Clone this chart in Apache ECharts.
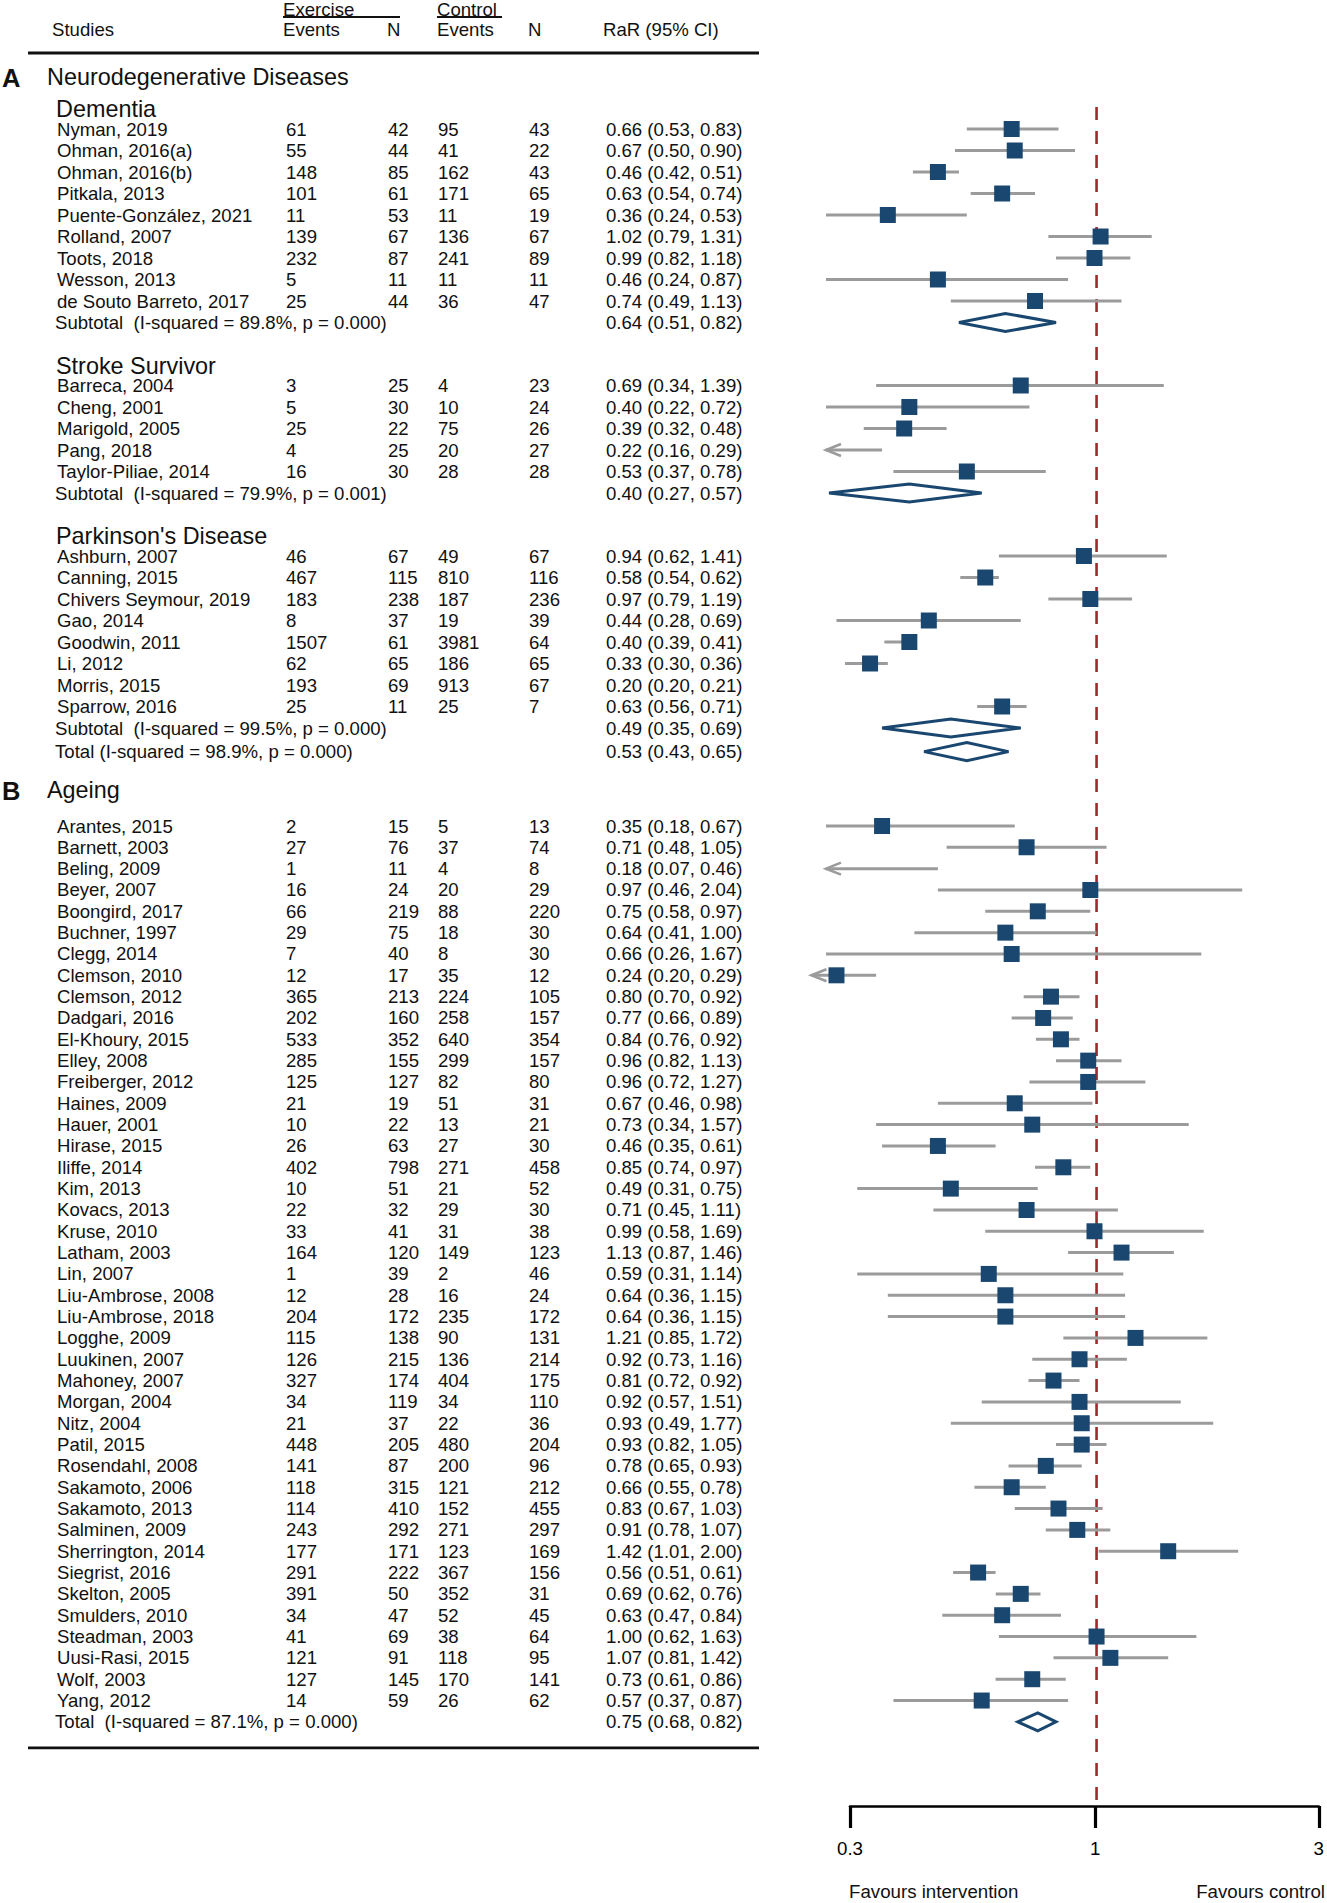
<!DOCTYPE html>
<html><head><meta charset="utf-8">
<script src="https://cdn.jsdelivr.net/npm/echarts@6/dist/echarts.min.js"></script>
<style>html,body{margin:0;padding:0;background:#fff}#c{width:1327px;height:1903px}</style>
</head><body><div id="c"></div>
<script>
// ---------------- DATA ----------------
const panelLetters = ['A', 'B'];
const panelTitles = ['Neurodegenerative Diseases', 'Ageing'];
const groupTitles = ['Dementia', 'Stroke Survivor', "Parkinson's Disease"];
const tickValues = [0.3, 1, 3];
const favourLabels = ['Favours intervention', 'Favours control'];

const dementiaStudies = ['Nyman, 2019','Ohman, 2016(a)','Ohman, 2016(b)','Pitkala, 2013','Puente-González, 2021','Rolland, 2007','Toots, 2018','Wesson, 2013','de Souto Barreto, 2017'];
const dementiaExEvents = [61,55,148,101,11,139,232,5,25];
const dementiaExN = [42,44,85,61,53,67,87,11,44];
const dementiaCtEvents = [95,41,162,171,11,136,241,11,36];
const dementiaCtN = [43,22,43,65,19,67,89,11,47];
const dementiaCI = ['0.66 (0.53, 0.83)','0.67 (0.50, 0.90)','0.46 (0.42, 0.51)','0.63 (0.54, 0.74)','0.36 (0.24, 0.53)','1.02 (0.79, 1.31)','0.99 (0.82, 1.18)','0.46 (0.24, 0.87)','0.74 (0.49, 1.13)'];
const dementiaRR = [0.66,0.67,0.46,0.63,0.36,1.02,0.99,0.46,0.74];
const dementiaLo = [0.53,0.50,0.42,0.54,0.24,0.79,0.82,0.24,0.49];
const dementiaHi = [0.83,0.90,0.51,0.74,0.53,1.31,1.18,0.87,1.13];
const dementiaPooled = [0.64,0.51,0.82];
const dementiaPooledLabel = 'Subtotal\u00a0 (I-squared = 89.8%, p = 0.000)';

const strokeStudies = ['Barreca, 2004','Cheng, 2001','Marigold, 2005','Pang, 2018','Taylor-Piliae, 2014'];
const strokeExEvents = [3,5,25,4,16];
const strokeExN = [25,30,22,25,30];
const strokeCtEvents = [4,10,75,20,28];
const strokeCtN = [23,24,26,27,28];
const strokeCI = ['0.69 (0.34, 1.39)','0.40 (0.22, 0.72)','0.39 (0.32, 0.48)','0.22 (0.16, 0.29)','0.53 (0.37, 0.78)'];
const strokeRR = [0.69,0.40,0.39,0.22,0.53];
const strokeLo = [0.34,0.22,0.32,0.16,0.37];
const strokeHi = [1.39,0.72,0.48,0.35,0.78];
const strokePooled = [0.40,0.27,0.57];
const strokePooledLabel = 'Subtotal\u00a0 (I-squared = 79.9%, p = 0.001)';

const parkinsonStudies = ['Ashburn, 2007','Canning, 2015','Chivers Seymour, 2019','Gao, 2014','Goodwin, 2011','Li, 2012','Morris, 2015','Sparrow, 2016'];
const parkinsonExEvents = [46,467,183,8,1507,62,193,25];
const parkinsonExN = [67,115,238,37,61,65,69,11];
const parkinsonCtEvents = [49,810,187,19,3981,186,913,25];
const parkinsonCtN = [67,116,236,39,64,65,67,7];
const parkinsonCI = ['0.94 (0.62, 1.41)','0.58 (0.54, 0.62)','0.97 (0.79, 1.19)','0.44 (0.28, 0.69)','0.40 (0.39, 0.41)','0.33 (0.30, 0.36)','0.20 (0.20, 0.21)','0.63 (0.56, 0.71)'];
const parkinsonRR = [0.94,0.58,0.97,0.44,0.40,0.33,0.20,0.63];
const parkinsonLo = [0.62,0.54,0.79,0.28,0.39,0.30,0.20,0.56];
const parkinsonHi = [1.41,0.62,1.19,0.69,0.41,0.36,0.21,0.71];
const parkinsonPooled = [0.49,0.35,0.69];
const parkinsonPooledLabel = 'Subtotal\u00a0 (I-squared = 99.5%, p = 0.000)';

const neuroTotal = [0.53,0.43,0.65];
const neuroTotalLabel = 'Total (I-squared = 98.9%, p = 0.000)';

const ageingStudies = ['Arantes, 2015','Barnett, 2003','Beling, 2009','Beyer, 2007','Boongird, 2017','Buchner, 1997','Clegg, 2014','Clemson, 2010','Clemson, 2012','Dadgari, 2016','El-Khoury, 2015','Elley, 2008','Freiberger, 2012','Haines, 2009','Hauer, 2001','Hirase, 2015','Iliffe, 2014','Kim, 2013','Kovacs, 2013','Kruse, 2010','Latham, 2003','Lin, 2007','Liu-Ambrose, 2008','Liu-Ambrose, 2018','Logghe, 2009','Luukinen, 2007','Mahoney, 2007','Morgan, 2004','Nitz, 2004','Patil, 2015','Rosendahl, 2008','Sakamoto, 2006','Sakamoto, 2013','Salminen, 2009','Sherrington, 2014','Siegrist, 2016','Skelton, 2005','Smulders, 2010','Steadman, 2003','Uusi-Rasi, 2015','Wolf, 2003','Yang, 2012'];
const ageingExEvents = [2,27,1,16,66,29,7,12,365,202,533,285,125,21,10,26,402,10,22,33,164,1,12,204,115,126,327,34,21,448,141,118,114,243,177,291,391,34,41,121,127,14];
const ageingExN = [15,76,11,24,219,75,40,17,213,160,352,155,127,19,22,63,798,51,32,41,120,39,28,172,138,215,174,119,37,205,87,315,410,292,171,222,50,47,69,91,145,59];
const ageingCtEvents = [5,37,4,20,88,18,8,35,224,258,640,299,82,51,13,27,271,21,29,31,149,2,16,235,90,136,404,34,22,480,200,121,152,271,123,367,352,52,38,118,170,26];
const ageingCtN = [13,74,8,29,220,30,30,12,105,157,354,157,80,31,21,30,458,52,30,38,123,46,24,172,131,214,175,110,36,204,96,212,455,297,169,156,31,45,64,95,141,62];
const ageingCI = ['0.35 (0.18, 0.67)','0.71 (0.48, 1.05)','0.18 (0.07, 0.46)','0.97 (0.46, 2.04)','0.75 (0.58, 0.97)','0.64 (0.41, 1.00)','0.66 (0.26, 1.67)','0.24 (0.20, 0.29)','0.80 (0.70, 0.92)','0.77 (0.66, 0.89)','0.84 (0.76, 0.92)','0.96 (0.82, 1.13)','0.96 (0.72, 1.27)','0.67 (0.46, 0.98)','0.73 (0.34, 1.57)','0.46 (0.35, 0.61)','0.85 (0.74, 0.97)','0.49 (0.31, 0.75)','0.71 (0.45, 1.11)','0.99 (0.58, 1.69)','1.13 (0.87, 1.46)','0.59 (0.31, 1.14)','0.64 (0.36, 1.15)','0.64 (0.36, 1.15)','1.21 (0.85, 1.72)','0.92 (0.73, 1.16)','0.81 (0.72, 0.92)','0.92 (0.57, 1.51)','0.93 (0.49, 1.77)','0.93 (0.82, 1.05)','0.78 (0.65, 0.93)','0.66 (0.55, 0.78)','0.83 (0.67, 1.03)','0.91 (0.78, 1.07)','1.42 (1.01, 2.00)','0.56 (0.51, 0.61)','0.69 (0.62, 0.76)','0.63 (0.47, 0.84)','1.00 (0.62, 1.63)','1.07 (0.81, 1.42)','0.73 (0.61, 0.86)','0.57 (0.37, 0.87)'];
const ageingRR = [0.35,0.71,0.18,0.97,0.75,0.64,0.66,0.28,0.80,0.77,0.84,0.96,0.96,0.67,0.73,0.46,0.85,0.49,0.71,0.99,1.13,0.59,0.64,0.64,1.21,0.92,0.81,0.92,0.93,0.93,0.78,0.66,0.83,0.91,1.42,0.56,0.69,0.63,1.00,1.07,0.73,0.57];
const ageingLo = [0.18,0.48,0.07,0.46,0.58,0.41,0.26,0.20,0.70,0.66,0.76,0.82,0.72,0.46,0.34,0.35,0.74,0.31,0.45,0.58,0.87,0.31,0.36,0.36,0.85,0.73,0.72,0.57,0.49,0.82,0.65,0.55,0.67,0.78,1.01,0.51,0.62,0.47,0.62,0.81,0.61,0.37];
const ageingHi = [0.67,1.05,0.46,2.04,0.97,1.00,1.67,0.34,0.92,0.89,0.92,1.13,1.27,0.98,1.57,0.61,0.97,0.75,1.11,1.69,1.46,1.14,1.15,1.15,1.72,1.16,0.92,1.51,1.77,1.05,0.93,0.78,1.03,1.07,2.00,0.61,0.76,0.84,1.63,1.42,0.86,0.87];
const ageingTotal = [0.75,0.68,0.82];
const ageingTotalLabel = 'Total\u00a0 (I-squared = 87.1%, p = 0.000)';

// ---------------- STYLE / LAYOUT ----------------
const FONT = '"Liberation Sans", Arial, Helvetica, sans-serif';
const NAVY = '#1a476f', GRAY = '#9b9b9b', RED = '#a3272f', INK = '#111';
const W = 1327, H = 1903;
const X_MIN = 0.266, X_MAX = 3;          // plotting window of the forest panel
const AXIS_Y = 1806, REF_TOP = 107;
const ROW_A = 21.5, ROW_B = 21.33;
const COL = {name: 57, pool: 55, group: 56, exE: 286, exN: 388, ctE: 438, ctN: 529, ci: 606};
const fmt = v => v.toFixed(2);
const ciOf = a => fmt(a[0]) + ' (' + fmt(a[1]) + ', ' + fmt(a[2]) + ')';

const neuroGroups = [
  {title: groupTitles[0], studies: dementiaStudies, exE: dementiaExEvents, exN: dementiaExN, ctE: dementiaCtEvents, ctN: dementiaCtN, ci: dementiaCI, rr: dementiaRR, lo: dementiaLo, hi: dementiaHi, pooled: dementiaPooled, pooledLabel: dementiaPooledLabel},
  {title: groupTitles[1], studies: strokeStudies, exE: strokeExEvents, exN: strokeExN, ctE: strokeCtEvents, ctN: strokeCtN, ci: strokeCI, rr: strokeRR, lo: strokeLo, hi: strokeHi, pooled: strokePooled, pooledLabel: strokePooledLabel},
  {title: groupTitles[2], studies: parkinsonStudies, exE: parkinsonExEvents, exN: parkinsonExN, ctE: parkinsonCtEvents, ctN: parkinsonCtN, ci: parkinsonCI, rr: parkinsonRR, lo: parkinsonLo, hi: parkinsonHi, pooled: parkinsonPooled, pooledLabel: parkinsonPooledLabel}
];
const ageingGroup = {studies: ageingStudies, exE: ageingExEvents, exN: ageingExN, ctE: ageingCtEvents, ctN: ageingCtN, ci: ageingCI, rr: ageingRR, lo: ageingLo, hi: ageingHi};

const layout = [];
const forestRows = [];
const diamondRows = [];
function addStudies(g, y, step) {
  g.studies.forEach((s, i) => {
    if (i > 0) y += step;
    layout.push({kind: 'study', g, i, y});
    forestRows.push([g.rr[i], g.lo[i], g.hi[i], y, parseFloat(g.ci[i]) < X_MIN ? 1 : 0]);
  });
  return y;
}
function addPool(label, vals, y) {
  layout.push({kind: 'pool', label, ci: ciOf(vals), y});
  diamondRows.push([vals[0], vals[1], vals[2], y]);
}
layout.push({kind: 'head', y: 29});
layout.push({kind: 'rule', y: 53});
let y = 77;
layout.push({kind: 'panel', letter: panelLetters[0], title: panelTitles[0], y});
y = 109;
neuroGroups.forEach((g, gi) => {
  if (gi > 0) y += 2 * ROW_A;
  layout.push({kind: 'group', title: g.title, y});
  y += 20;
  y = addStudies(g, y, ROW_A);
  y += ROW_A;
  addPool(g.pooledLabel, g.pooled, y);
});
y += 23.6;
addPool(neuroTotalLabel, neuroTotal, y);
y += 38;
layout.push({kind: 'panel', letter: panelLetters[1], title: panelTitles[1], y});
y += 36.4;
y = addStudies(ageingGroup, y, ROW_B);
y += ROW_B;
addPool(ageingTotalLabel, ageingTotal, y);
layout.push({kind: 'rule', y: y + 26});
layout.push({kind: 'foot', y: 1891});

// ---------------- RENDER ----------------
function T(x, yy, text, extra) {
  return {type: 'text', x, y: yy, silent: true,
    style: Object.assign({text, fill: INK, fontSize: 18.6, fontFamily: FONT, align: 'left', verticalAlign: 'middle'}, extra || {})};
}
function L(x1, y1, x2, y2, w, c) {
  return {type: 'line', silent: true, shape: {x1, y1, x2, y2}, style: {stroke: c || INK, lineWidth: w || 2.8}};
}

function renderTable(params, api) {
  const r = layout[api.value(2)];
  const py = api.coord([0, api.value(1)])[1];
  const X = v => api.coord([v, 0])[0];
  const ch = [];
  switch (r.kind) {
    case 'head':
      ch.push(T(X(283), py - 20, 'Exercise'), L(X(283), py - 12, X(400), py - 12, 2.2));
      ch.push(T(X(437), py - 20, 'Control'), L(X(437), py - 12, X(502), py - 12, 2.2));
      ch.push(T(X(52), py, 'Studies'), T(X(283), py, 'Events'), T(X(387), py, 'N'),
              T(X(437), py, 'Events'), T(X(528), py, 'N'), T(X(603), py, 'RaR (95% CI)'));
      break;
    case 'rule':
      ch.push(L(X(28), py, X(759), py, 2.8));
      break;
    case 'panel':
      ch.push(T(X(2), py + 1, r.letter, {fontSize: 25.5, fontWeight: 'bold'}));
      ch.push(T(X(47), py, r.title, {fontSize: 23.4}));
      break;
    case 'group':
      ch.push(T(X(COL.group), py, r.title, {fontSize: 23.4}));
      break;
    case 'study': {
      const g = r.g, i = r.i;
      ch.push(T(X(COL.name), py, g.studies[i]), T(X(COL.exE), py, String(g.exE[i])), T(X(COL.exN), py, String(g.exN[i])),
              T(X(COL.ctE), py, String(g.ctE[i])), T(X(COL.ctN), py, String(g.ctN[i])), T(X(COL.ci), py, g.ci[i]));
      break;
    }
    case 'pool':
      ch.push(T(X(COL.pool), py, r.label), T(X(COL.ci), py, r.ci));
      break;
    case 'foot':
      ch.push(T(X(849), py, favourLabels[0], {fontSize: 18.7}));
      ch.push(T(X(1325), py, favourLabels[1], {fontSize: 18.7, align: 'right'}));
      break;
  }
  return {type: 'group', children: ch};
}

function renderCI(params, api) {
  const rr = api.value(0), lo = api.value(1), hi = api.value(2), yv = api.value(3), arrow = api.value(4);
  if (hi < X_MIN) return null;
  const yy = api.coord([1, yv])[1];
  const xl = api.coord([Math.max(lo, X_MIN), yv])[0];
  const xr = api.coord([Math.min(hi, X_MAX), yv])[0];
  const hasSquare = rr >= X_MIN && rr <= X_MAX;
  const xc = api.coord([Math.max(rr, X_MIN), yv])[0];
  const tip = hasSquare ? Math.min(xl, xc - 25) : xl;
  const ch = [{type: 'line', shape: {x1: tip, y1: yy, x2: xr, y2: yy}, style: {stroke: GRAY, lineWidth: 3}}];
  if (arrow) {
    ch.push({type: 'polyline', shape: {points: [[tip + 15, yy - 6], [tip, yy], [tip + 15, yy + 6]]}, style: {stroke: GRAY, lineWidth: 2.6, fill: 'none'}});
  }
  if (hasSquare) {
    ch.push({type: 'rect', shape: {x: xc - 8, y: yy - 8, width: 16, height: 16}, style: {fill: NAVY}});
  }
  return {type: 'group', children: ch};
}

function renderDiamond(params, api) {
  const yv = api.value(3);
  const c = api.coord([api.value(0), yv]);
  const l = api.coord([api.value(1), yv]);
  const r = api.coord([api.value(2), yv]);
  return {type: 'polygon', shape: {points: [[l[0], c[1]], [c[0], c[1] - 9], [r[0], c[1]], [c[0], c[1] + 9]]},
          style: {fill: '#fff', stroke: NAVY, lineWidth: 3, lineJoin: 'miter'}};
}

function renderRef(params, api) {
  const a = api.coord([api.value(0), REF_TOP]);
  const b = api.coord([api.value(0), AXIS_Y]);
  return {type: 'line', shape: {x1: a[0], y1: a[1], x2: b[0], y2: b[1]}, style: {stroke: RED, lineWidth: 2.6, lineDash: [13, 11]}};
}

const hiddenY = idx => ({gridIndex: idx, type: 'value', min: 0, max: H, inverse: true, show: false});

const option = {
  animation: false,
  backgroundColor: '#fff',
  grid: [
    {left: 0, right: 0, top: 0, bottom: 0},
    {left: 826, right: W - 1321, top: 0, bottom: 0},
    {left: 850, right: W - 1321, top: AXIS_Y - 100, height: 100}
  ],
  xAxis: [
    {gridIndex: 0, type: 'value', min: 0, max: W, show: false},
    {gridIndex: 1, type: 'log', logBase: 10, min: X_MIN, max: X_MAX, show: false},
    {gridIndex: 2, type: 'log', logBase: 10, min: tickValues[0], max: tickValues[tickValues.length - 1], position: 'bottom',
     axisLine: {show: true, lineStyle: {color: '#000', width: 2.6}},
     axisTick: {show: true, inside: false, length: 22, lineStyle: {color: '#000', width: 3.2}},
     axisLabel: {show: true, showMinLabel: true, showMaxLabel: true, color: '#000', fontSize: 18.7, fontFamily: FONT, margin: 33,
                 formatter: v => String(+(+v).toPrecision(2))},
     splitLine: {show: false}, minorTick: {show: false}}
  ],
  yAxis: [hiddenY(0), hiddenY(1), {gridIndex: 2, type: 'value', show: false}],
  series: [
    {type: 'custom', xAxisIndex: 1, yAxisIndex: 1, renderItem: renderRef, data: [[1]], clip: false, z: 1, silent: true},
    {type: 'custom', xAxisIndex: 1, yAxisIndex: 1, renderItem: renderCI, data: forestRows, clip: false, z: 2, silent: true},
    {type: 'custom', xAxisIndex: 1, yAxisIndex: 1, renderItem: renderDiamond, data: diamondRows, clip: false, z: 3, silent: true},
    {type: 'custom', xAxisIndex: 0, yAxisIndex: 0, renderItem: renderTable, data: layout.map((r, i) => [0, r.y, i]), clip: false, z: 4, silent: true}
  ]
};

const chart = echarts.init(document.getElementById('c'), null, {renderer: 'svg', width: W, height: H});
chart.setOption(option);
</script></body></html>
